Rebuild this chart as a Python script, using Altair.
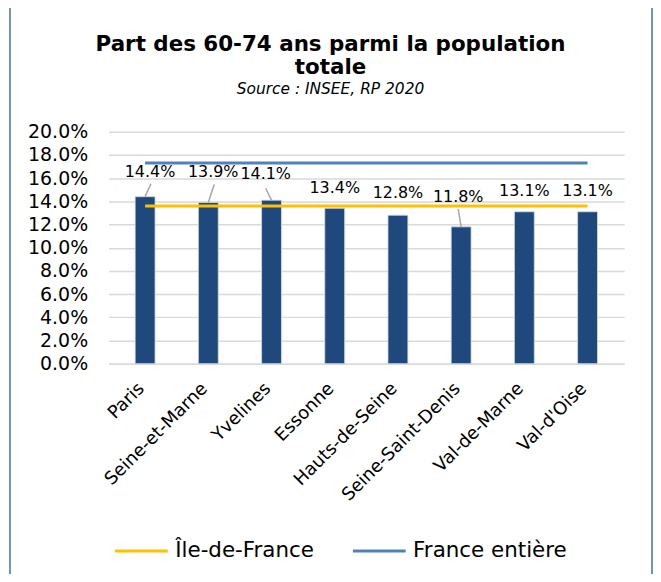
import json
import altair as alt
import pandas as pd

# ---------------- data ----------------
departements = ["Paris", "Seine-et-Marne", "Yvelines", "Essonne",
                "Hauts-de-Seine", "Seine-Saint-Denis", "Val-de-Marne", "Val-d'Oise"]
part_60_74 = [14.4, 13.9, 14.1, 13.4, 12.8, 11.8, 13.1, 13.1]
ile_de_france = 13.6
france_entiere = 17.3
series_names = ["Île-de-France", "France entière"]
y_ticks = [0, 2, 4, 6, 8, 10, 12, 14, 16, 18, 20]

# ---------------- layout (pixels) ----------------
W, H = 518, 233
PX_PER_CAT = W / 8.0
PX_PER_PCT = H / 20.0
# data-label nudges (as placed by hand in the original), pixels
label_dx = [5, 5, -6, 0, 0, -3, 0, 0]
label_dy = [-25, -31, -26, -20, -22, -30, -21, -21]
# leader lines: horizontal / vertical extent in pixels (0 = no leader)
leader_dx = [6, 6, -6, 0, 0, -3, 0, 0]
leader_dy = [-13, -18, -12, 0, 0, -18, 0, 0]

idx = list(range(len(departements)))
bars_df = pd.DataFrame({
    "idx": idx,
    "dep": departements,
    "value": part_60_74,
    "txt": [f"{v:.1f}%" for v in part_60_74],
    "label_x": [i + dx / PX_PER_CAT for i, dx in zip(idx, label_dx)],
    "label_y": [v - dy / PX_PER_PCT for v, dy in zip(part_60_74, label_dy)],
})

lead_rows = []
for i, v, ldx, ldy in zip(idx, part_60_74, leader_dx, leader_dy):
    if ldy != 0:
        lead_rows.append({"idx": i, "value": v,
                          "idx2": i + ldx / PX_PER_CAT,
                          "value2": v - ldy / PX_PER_PCT})
lead_df = pd.DataFrame(lead_rows)

lines_df = pd.DataFrame({
    "idx": [idx[0], idx[-1], idx[0], idx[-1]],
    "value": [ile_de_france, ile_de_france, france_entiere, france_entiere],
    "serie": [series_names[0]] * 2 + [series_names[1]] * 2,
})

frame_df = pd.DataFrame({"a": [0]})

FONT = "DejaVu Sans"

x_scale = alt.Scale(domain=[-0.5, len(departements) - 0.5], nice=False, zero=False)
y_scale = alt.Scale(domain=[0, 20], nice=False)

label_expr = json.dumps(departements) + "[datum.value]"

x_axis = alt.Axis(values=idx, labelExpr=label_expr, labelAngle=-45,
                  labelAlign="right", labelBaseline="middle", labelPadding=22,
                  labelOffset=-4, labelFontSize=18, labelFont=FONT,
                  labelColor="#000000", grid=False, ticks=False, domain=True,
                  domainColor="#D9D9D9", domainWidth=1.5, title=None,
                  labelOverlap=False, labelBound=False, labelFlush=False)
y_axis = alt.Axis(values=y_ticks, tickCount=len(y_ticks),
                  labelExpr="format(datum.value, '.1f') + '%'",
                  grid=True, gridColor="#D9D9D9", gridWidth=1.5, domain=False,
                  ticks=False, labelFontSize=19, labelFont=FONT,
                  labelColor="#000000", labelPadding=21, title=None,
                  labelOverlap=False, labelBound=False, labelFlush=False)

frame = alt.Chart(frame_df).mark_rect(
    filled=False, stroke="#4A6FA5", strokeWidth=1.5
).encode(
    x=alt.value(-99), x2=alt.value(546), y=alt.value(-125), y2=alt.value(480)
)

bars = alt.Chart(bars_df).mark_bar(
    size=20, color="#1F497D", stroke="#D6DCE5", strokeWidth=0.8
).encode(
    x=alt.X("idx:Q", scale=x_scale, axis=x_axis),
    y=alt.Y("value:Q", scale=y_scale, axis=y_axis),
)

lines = alt.Chart(lines_df).mark_line(strokeWidth=3).encode(
    x=alt.X("idx:Q", scale=x_scale, axis=x_axis),
    y=alt.Y("value:Q", scale=y_scale, axis=y_axis),
    color=alt.Color("serie:N",
                    scale=alt.Scale(domain=series_names, range=["#FFC000", "#4F81BD"]),
                    sort=series_names,
                    legend=alt.Legend(orient="none", legendX=5, legendY=393,
                                      direction="horizontal", title=None,
                                      symbolType="stroke", symbolSize=2809,
                                      symbolStrokeWidth=3, labelFontSize=21.5,
                                      labelFont=FONT, labelColor="#000000",
                                      labelOffset=6, columnPadding=32, padding=0)),
    detail="serie:N",
)

leaders = alt.Chart(lead_df).mark_rule(color="#A6A6A6", strokeWidth=1.5).encode(
    x=alt.X("idx:Q", scale=x_scale, axis=x_axis),
    x2="idx2:Q",
    y=alt.Y("value:Q", scale=y_scale, axis=y_axis),
    y2="value2:Q",
)

labels = alt.Chart(bars_df).mark_text(
    fontSize=16, font=FONT, color="#000000", baseline="middle", align="center"
).encode(
    x=alt.X("label_x:Q", scale=x_scale, axis=x_axis),
    y=alt.Y("label_y:Q", scale=y_scale, axis=y_axis),
    text="txt:N",
)

chart = alt.layer(frame, bars, lines, leaders, labels).properties(
    width=W,
    height=H,
    autosize=alt.AutoSizeParams(type="none"),
    padding={"left": 101, "top": 123, "right": 29, "bottom": 210},
    title=alt.TitleParams(
        text=["Part des 60-74 ans parmi la population", "totale"],
        subtitle="Source : INSEE, RP 2020",
        font=FONT, fontSize=21.5, fontWeight="bold", color="#000000",
        subtitleFont=FONT, subtitleFontSize=15.5, subtitleFontStyle="italic",
        subtitleColor="#000000", subtitlePadding=3,
        anchor="middle", frame="group", dx=-36, offset=-91, lineHeight=23,
    ),
).configure(font=FONT).configure_view(stroke=None)

chart.save("out.html", embed_options={"renderer": "svg", "actions": False})
